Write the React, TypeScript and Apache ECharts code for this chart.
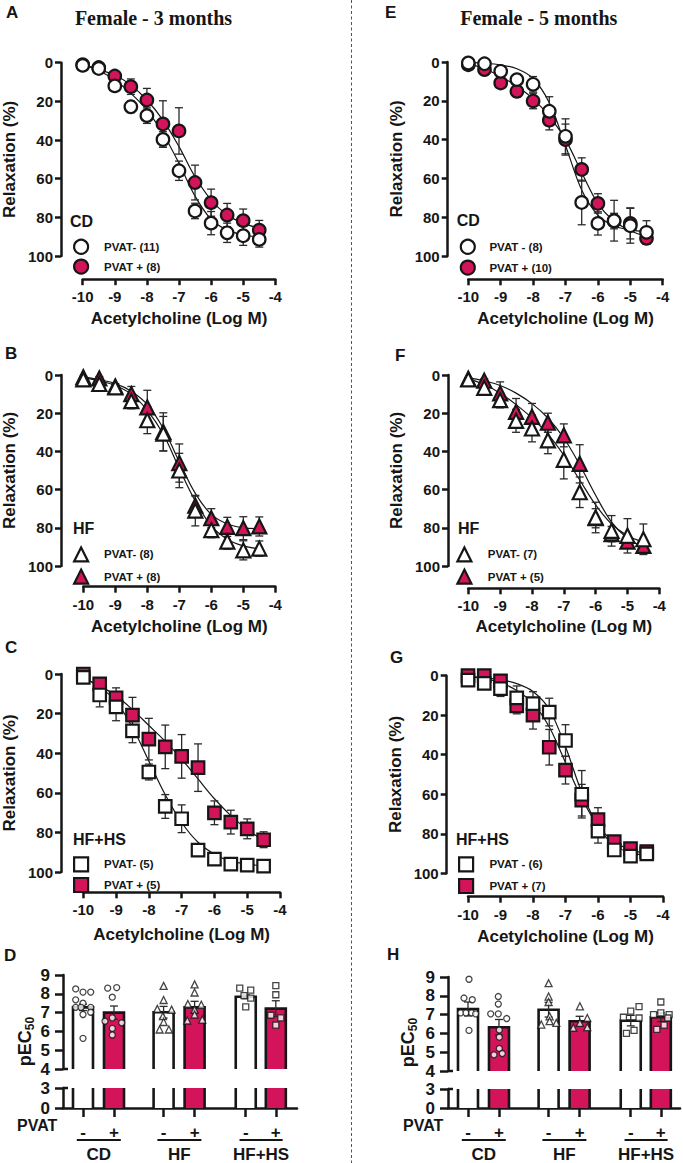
import React, { useEffect, useRef } from 'react';
import * as echarts from 'echarts';

const FONT = '"Liberation Sans", Arial, Helvetica, sans-serif';
const SERIF = '"Liberation Serif", "Times New Roman", serif';
const RED = '#D3145A';
const INK = '#161616';

// concentrations (log M)
const LOG_ACH = [-10, -9.5, -9, -8.5, -8, -7.5, -7, -6.5, -6, -5.5, -5, -4.5];

// Panel A : Female 3 months, CD
const A_MINUS = [1.4, 3, 12, 22.8, 27.4, 39.7, 55.9, 76.7, 83, 88, 89.5, 91.4];
const A_MINUS_SEM = [0, 1, 1.5, 3, 4, 4, 5, 4, 6, 5, 5, 4];
const A_MINUS_FIT = [1, 4, 9, 15.9, 24.5, 36.6, 52, 69, 81, 86.6, 89, 90.3];
const A_PLUS = [1, 2.5, 6.9, 12.4, 19.3, 31.7, 35.3, 62, 72.4, 78.8, 81.7, 86.6];
const A_PLUS_SEM = [0, 1, 2, 4, 6, 12, 12, 9, 7, 6, 6, 5];
const A_PLUS_FIT = [1, 3.5, 6.4, 11.6, 19.3, 29.7, 43.4, 59, 71, 78.8, 83, 85.7];

// Panel B : Female 3 months, HF
const B_MINUS = [2.3, 4.7, 6.5, 13.7, 23.7, 30.7, 50, 71, 81.2, 87.2, 91.8, 90.9];
const B_MINUS_SEM = [0.5, 1, 1.5, 4, 7, 9, 9, 8, 4, 4, 5, 4];
const B_MINUS_FIT = [1.5, 3, 5.5, 10, 18.5, 31, 49, 66, 79, 86, 89.5, 91];
const B_PLUS = [1.2, 1.8, 6, 10, 17, 29.8, 46.1, 68.4, 75, 79.5, 80.2, 79.3];
const B_PLUS_SEM = [0.5, 1, 1.5, 4, 9, 10, 10, 5, 5, 5, 6, 5];
const B_PLUS_FIT = [1, 2.5, 4.5, 8.5, 15.5, 28, 45.5, 62, 73, 78, 80, 80.5];

// Panel C : Female 3 months, HF+HS
const C_MINUS = [1.7, 10.6, 16.6, 28.7, 49.5, 66.9, 73.1, 89, 93.5, 96, 96.5, 97];
const C_MINUS_SEM = [1, 6, 7, 6, 4, 6, 7, 2, 1.5, 1, 1, 1];
const C_MINUS_FIT = [2, 6.5, 14, 27, 44, 61, 75, 85, 91, 94.5, 96, 97];
const C_PLUS = [0, 5, 12, 20.8, 32.9, 36.8, 41.6, 47.3, 70.1, 74.8, 78.2, 83.7];
const C_PLUS_SEM = [0.5, 2, 5, 9, 10.5, 11, 11, 12, 6, 6, 5, 4];
const C_PLUS_FIT = [2, 6, 11, 18, 26, 34, 43, 53, 63, 71.5, 78.5, 84];

// Panel E : Female 5 months, CD
const E_MINUS = [0.5, 0.9, 4.8, 9.1, 11.5, 25.4, 38.3, 72.4, 83.2, 81.8, 84.4, 87.8];
const E_MINUS_SEM = [0, 0, 1, 2, 4, 7.5, 9, 11.5, 6, 10.5, 9, 6];
const E_MINUS_FIT = [0.2, 0.6, 1.5, 3.5, 8.5, 21, 43, 66, 79, 84.5, 86.5, 87.5];
const E_PLUS = [1.4, 3.9, 10.8, 15.1, 20.1, 30, 40, 55.4, 72.9, 82, 83.2, 90.9];
const E_PLUS_SEM = [0.5, 1, 2, 3, 4, 5, 8, 6, 5, 4, 8, 3];
const E_PLUS_FIT = [1, 3.5, 7.5, 12.5, 19, 28, 40, 57, 73, 82, 87, 90];

// Panel F : Female 5 months, HF
const F_MINUS = [2.3, 6.7, 13.2, 24, 28, 34.2, 44.4, 61.4, 74.6, 81.6, 84.2, 86];
const F_MINUS_SEM = [0.5, 1.5, 4, 6, 7, 7, 10, 8, 8, 8, 9, 8];
const F_MINUS_FIT = [2, 5, 9.5, 15.5, 22.5, 31, 42, 55, 68, 78, 84, 87.5];
const F_PLUS = [2, 3, 9.6, 19.3, 21.9, 25, 31.6, 46.5, 75, 83.3, 87.2, 89.5];
const F_PLUS_SEM = [0.5, 1, 6, 7, 7, 5, 6, 10, 5, 4, 3, 3];
const F_PLUS_FIT = [1.5, 3, 5.5, 9.5, 15, 22.5, 33, 47, 63, 77, 85.5, 90];

// Panel G : Female 5 months, HF+HS
const G_MINUS = [2.2, 3.9, 6.5, 11.2, 14.1, 18.4, 32.8, 60, 78.7, 88.2, 91.3, 90.2];
const G_MINUS_SEM = [1, 1, 4, 6, 6, 7, 8, 12, 6, 3, 2, 2];
const G_MINUS_FIT = [0.5, 1, 2, 4, 8, 17, 36, 59, 76, 86, 89.5, 91];
const G_PLUS = [0, 0, 2.6, 15.3, 20, 36.2, 47.8, 63, 72.8, 84, 87.5, 89];
const G_PLUS_SEM = [0.5, 0.5, 1, 4, 7, 9, 7, 8, 6, 3, 2, 2];
const G_PLUS_FIT = [0.5, 1.5, 3.5, 7.5, 14, 26, 44, 62, 76, 84, 88, 90];

// pEC50 bar panels
const GROUPS = ['CD', 'HF', 'HF+HS'];
const PVAT_SIGN = ['-', '+', '-', '+', '-', '+'];
const D_MEAN = [7.28, 7.0, 7.02, 7.28, 7.84, 7.21];
const D_SEM = [0.17, 0.35, 0.31, 0.32, 0.1, 0.42];
const D_POINTS = [
  [8.26, 8.09, 8.09, 7.68, 7.5, 7.28, 7.28, 7.28, 7.02, 6.9, 5.63],
  [8.3, 8.33, 7.82, 6.72, 6.54, 6.46, 6.16, 5.81],
  [8.42, 7.67, 7.2, 7.16, 6.81, 6.5, 6.1, 6.1],
  [8.5, 8.07, 7.46, 7.42, 7.16, 6.9, 6.58, 6.63],
  [8.3, 8.2, 7.9, 7.77, 7.3],
  [8.44, 7.95, 6.86, 6.72, 6.33],
];
const H_MEAN = [7.3, 6.33, 7.26, 6.65, 6.68, 6.86];
const H_SEM = [0.37, 0.41, 0.39, 0.26, 0.28, 0.23];
const H_POINTS = [
  [8.88, 7.88, 7.79, 7.09, 7.09, 7.09, 7.04, 6.16],
  [7.96, 7.56, 7.04, 7.04, 6.79, 6.18, 5.8, 5.2, 4.93, 4.86],
  [8.67, 7.96, 7.67, 6.91, 6.65, 6.47, 6.56],
  [7.44, 6.82, 6.56, 6.33, 6.3],
  [7.42, 7.18, 6.86, 6.82, 6.16, 6.0],
  [7.67, 7.09, 7.0, 7.0, 6.82, 6.44, 6.21],
];

// ---- layout only (pixels / slots) ----
const D_JITTER = [
  [-7.3, 0, 7.7, -7.3, 0, -7.3, -2, 7.7, 7.7, 0, 0],
  [-6.3, 2.7, -1.7, -1.7, -9, 7.7, -1.7, -1.7],
  [0, 0, -6.3, 8, -0.7, 0, -4, 5.3],
  [0, 0, -6.7, 6.7, 0, 0, -7.3, 7.7],
  [-6, 5, -1.7, 5, 0],
  [0, 0, -5, 5, 0],
];
const H_JITTER = [
  [1, -4, 4.3, -7.3, -2, 3.7, 7.7, 1],
  [-0.7, -0.7, -8.3, -0.7, 7.7, 0.3, 0.3, 0.3, 3.3, -5],
  [0, 0, 0, 1, 1, -7.3, 7.7],
  [0.3, 7.7, 0.3, 7.7, -6.3],
  [8.3, 0, -7.3, 8.3, 3.3, -4.3],
  [0, 0, -7.3, 8.3, 7, 3.3, -4],
];
const BAR_POS = [1, 2, 3.6, 4.6, 6.25, 7.22];
const SLOT_PX = 31;
const BAR_W = 20 / SLOT_PX;
const X_MIN = 0.355;
const BREAK_LO = 3;
const BREAK_HI = 4;
const DOT_SHAPES = ['circle', 'circle', 'triangle', 'triangle', 'rect', 'rect'];

const CURVE_PANELS = [
  { id: 'A', left: 82.7, right: 275.3, top: 62.7, bottom: 256, yAxisX: 61, xAxisY: 279.2, xNameY: 319, shape: 'circle', group: 'CD', groupXY: [70, 221],
    minus: ['PVAT- (11)', A_MINUS, A_MINUS_SEM, A_MINUS_FIT], plus: ['PVAT + (8)', A_PLUS, A_PLUS_SEM, A_PLUS_FIT], leg: [80, 245.7, 17.6, 23] },
  { id: 'E', left: 468.3, right: 662.7, top: 62, bottom: 256, yAxisX: 447.7, xAxisY: 279.3, xNameY: 319.3, shape: 'circle', group: 'CD', groupXY: [456.7, 220],
    minus: ['PVAT - (8)', E_MINUS, E_MINUS_SEM, E_MINUS_FIT], plus: ['PVAT + (10)', E_PLUS, E_PLUS_SEM, E_PLUS_FIT], leg: [466.7, 245.7, 18.6, 21.6] },
  { id: 'B', left: 83.3, right: 275.3, top: 375, bottom: 566, yAxisX: 61, xAxisY: 586.7, xNameY: 627, shape: 'triangle', group: 'HF', groupXY: [73, 528.3],
    minus: ['PVAT- (8)', B_MINUS, B_MINUS_SEM, B_MINUS_FIT], plus: ['PVAT + (8)', B_PLUS, B_PLUS_SEM, B_PLUS_FIT], leg: [80, 553.3, 20, 23] },
  { id: 'F', left: 468.3, right: 659.3, top: 375, bottom: 566, yAxisX: 448, xAxisY: 588.3, xNameY: 626.7, shape: 'triangle', group: 'HF', groupXY: [458, 528],
    minus: ['PVAT- (7)', F_MINUS, F_MINUS_SEM, F_MINUS_FIT], plus: ['PVAT + (5)', F_PLUS, F_PLUS_SEM, F_PLUS_FIT], leg: [463.3, 553.3, 20, 23.4] },
  { id: 'C', left: 83.3, right: 280, top: 674, bottom: 872, yAxisX: 61, xAxisY: 892.3, xNameY: 935, shape: 'rect', group: 'HF+HS', groupXY: [73, 839],
    minus: ['PVAT- (5)', C_MINUS, C_MINUS_SEM, C_MINUS_FIT], plus: ['PVAT + (5)', C_PLUS, C_PLUS_SEM, C_PLUS_FIT], leg: [80, 863.3, 18.4, 23] },
  { id: 'G', left: 468, right: 663, top: 675.7, bottom: 873.3, yAxisX: 446.7, xAxisY: 896.7, xNameY: 936.7, shape: 'rect', group: 'HF+HS', groupXY: [456, 839],
    minus: ['PVAT - (6)', G_MINUS, G_MINUS_SEM, G_MINUS_FIT], plus: ['PVAT + (7)', G_PLUS, G_PLUS_SEM, G_PLUS_FIT], leg: [465, 863.3, 19.4, 23.3] },
];

const BAR_PANELS = [
  { id: 'D', left: 63, width: 234, top9: 975, y4: 1069, y3: 1088, y0: 1108, mean: D_MEAN, sem: D_SEM, points: D_POINTS, jitter: D_JITTER, pvatX: 17, pecX: 25 },
  { id: 'H', left: 448, width: 232, top9: 977, y4: 1071, y3: 1089, y0: 1108, mean: H_MEAN, sem: H_SEM, points: H_POINTS, jitter: H_JITTER, pvatX: 403, pecX: 408 },
];

const LETTERS = [
  ['A', 6, 12.5], ['B', 5, 353.7], ['C', 5, 647], ['D', 4, 955.5],
  ['E', 385, 12.8], ['F', 395, 355], ['G', 390, 657], ['H', 387, 954],
];

function txt(text: string, x: number, y: number, size: number, align = 'left', family = FONT, extra: any = {}) {
  return {
    type: 'text', x, y, silent: true, ...extra,
    style: { text, fill: INK, fontSize: size, fontWeight: 'bold', fontFamily: family, align, verticalAlign: 'middle', textAlign: align, textVerticalAlign: 'middle' },
  };
}

function errItem(_p: any, api: any) {
  const x = api.value(0), y = api.value(1), e = api.value(2);
  if (!e) return { type: 'group', children: [] };
  const a = api.coord([x, y - e]);
  const b = api.coord([x, y + e]);
  const hw = 4;
  const st = { stroke: '#2a2a2a', lineWidth: 1.3 };
  return {
    type: 'group',
    children: [
      { type: 'line', shape: { x1: a[0], y1: a[1], x2: b[0], y2: b[1] }, style: st },
      { type: 'line', shape: { x1: a[0] - hw, y1: a[1], x2: a[0] + hw, y2: a[1] }, style: st },
      { type: 'line', shape: { x1: b[0] - hw, y1: b[1], x2: b[0] + hw, y2: b[1] }, style: st },
    ],
  };
}

function barTopItem(_p: any, api: any) {
  const x = api.value(0), v = api.value(1), red = api.value(2);
  const w = api.size([BAR_W, 0])[0];
  const t = api.coord([x, v]);
  const b = api.coord([x, BREAK_HI]);
  const l = t[0] - w / 2, r = t[0] + w / 2;
  return {
    type: 'group',
    children: [
      { type: 'rect', shape: { x: l, y: t[1], width: w, height: b[1] - t[1] }, style: { fill: red ? RED : '#fff' } },
      { type: 'polyline', shape: { points: [[l, b[1]], [l, t[1]], [r, t[1]], [r, b[1]]] }, style: { stroke: INK, lineWidth: 2.6, fill: null } },
    ],
  };
}

function barBotItem(_p: any, api: any) {
  const x = api.value(0), v = Math.min(api.value(1), BREAK_LO), red = api.value(2);
  const w = api.size([BAR_W, 0])[0];
  const t = api.coord([x, v]);
  const b = api.coord([x, 0]);
  const l = t[0] - w / 2, r = t[0] + w / 2;
  return {
    type: 'group',
    children: [
      { type: 'rect', shape: { x: l, y: t[1], width: w, height: b[1] - t[1] }, style: { fill: red ? RED : '#fff' } },
      { type: 'line', shape: { x1: l, y1: t[1], x2: l, y2: b[1] }, style: { stroke: INK, lineWidth: 2.6 } },
      { type: 'line', shape: { x1: r, y1: t[1], x2: r, y2: b[1] }, style: { stroke: INK, lineWidth: 2.6 } },
    ],
  };
}

function buildOption() {
  const grid: any[] = [], xAxis: any[] = [], yAxis: any[] = [], series: any[] = [], legend: any[] = [], graphic: any[] = [];
  const axisLine = { show: true, onZero: false, lineStyle: { color: INK, width: 2.5 } };
  const axisTick = { show: true, inside: false, length: 6, lineStyle: { color: INK, width: 2.5 } };
  const tickFont = { fontFamily: FONT, fontWeight: 'bold', fontSize: 15, color: INK };

  CURVE_PANELS.forEach((p, i) => {
    grid.push({ left: p.left, top: p.top, width: p.right - p.left, height: p.bottom - p.top, outerBoundsMode: 'none', containLabel: false });
    xAxis.push({
      type: 'value', gridIndex: i, min: -10, max: -4, interval: 1, position: 'bottom', offset: p.xAxisY - p.bottom,
      name: 'Acetylcholine (Log M)', nameLocation: 'middle', nameGap: p.xNameY - p.xAxisY - 9,
      nameTextStyle: { fontFamily: FONT, fontWeight: 'bold', fontSize: 17, color: INK },
      axisLine, axisTick, splitLine: { show: false },
      axisLabel: { ...tickFont, margin: 10, showMinLabel: true, showMaxLabel: true, hideOverlap: false },
    });
    yAxis.push({
      type: 'value', gridIndex: i, min: 0, max: 100, interval: 20, inverse: true, position: 'left', offset: p.left - p.yAxisX,
      name: 'Relaxation (%)', nameLocation: 'middle', nameGap: 43, nameRotate: 90,
      nameTextStyle: { fontFamily: FONT, fontWeight: 'bold', fontSize: 17, color: INK },
      axisLine, axisTick, splitLine: { show: false },
      axisLabel: { ...tickFont, margin: 8, showMinLabel: true, showMaxLabel: true, hideOverlap: false },
    });
    const defs: any[] = [[p.plus, RED, 10], [p.minus, '#fff', 20]];
    defs.forEach(([d, fill, z]) => {
      const [name, ys, sem, fit] = d as [string, number[], number[], number[]];
      series.push({
        type: 'line', name: p.id + name + ' fit', xAxisIndex: i, yAxisIndex: i, z: 1, symbol: 'none', smooth: 0.35,
        silent: true, lineStyle: { color: INK, width: 1.2 }, data: LOG_ACH.map((x, k) => [x, fit[k]]),
      });
      series.push({
        type: 'custom', name: p.id + name + ' sem', xAxisIndex: i, yAxisIndex: i, z: 2 + z / 10, silent: true,
        renderItem: errItem, encode: { x: 0, y: 1 }, data: LOG_ACH.map((x, k) => [x, ys[k], sem[k]]),
      });
      series.push({
        type: 'scatter', name, xAxisIndex: i, yAxisIndex: i, z: 3 + z / 10, symbol: p.shape,
        symbolSize: p.shape === 'triangle' ? 14 : 12.5, silent: true,
        itemStyle: { color: fill, borderColor: INK, borderWidth: 2.2, opacity: 1 },
        data: LOG_ACH.map((x, k) => [x, ys[k]]),
      });
    });
    const [lx, ly, step, toff] = p.leg;
    legend.push({
      orient: 'vertical', left: lx - 7, top: ly - 7, itemWidth: 14, itemHeight: 14, itemGap: step - 14, padding: 0,
      selectedMode: false,
      textStyle: { fontFamily: FONT, fontWeight: 'bold', fontSize: 11.5, color: INK, padding: [0, 0, 0, toff - 12], lineHeight: 14 },
      data: [
        { name: p.minus[0], icon: p.shape, itemStyle: { color: '#fff', borderColor: INK, borderWidth: 2.2 } },
        { name: p.plus[0], icon: p.shape, itemStyle: { color: RED, borderColor: INK, borderWidth: 2.2 } },
      ],
    });
    graphic.push(txt(p.group, p.groupXY[0], p.groupXY[1], 16));
  });

  BAR_PANELS.forEach((b) => {
    const gTop = grid.length;
    const gBot = gTop + 1;
    const xMax = X_MIN + b.width / SLOT_PX;
    grid.push({ left: b.left, top: b.top9, width: b.width, height: b.y4 - b.top9, outerBoundsMode: 'none', containLabel: false });
    grid.push({ left: b.left, top: b.y3, width: b.width, height: b.y0 - b.y3, outerBoundsMode: 'none', containLabel: false });
    const yTick = { show: true, length: 8, lineStyle: { color: INK, width: 2.5 } };
    const yLab = { fontFamily: FONT, fontWeight: 'bold', fontSize: 17, color: INK, margin: 13, showMinLabel: true, showMaxLabel: true, hideOverlap: false };
    xAxis.push({ type: 'value', gridIndex: gTop, min: X_MIN, max: xMax, show: false, splitLine: { show: false } });
    xAxis.push({
      type: 'value', gridIndex: gBot, min: X_MIN, max: xMax, position: 'bottom',
      axisLine: { show: true, onZero: false, lineStyle: { color: INK, width: 2.5 } },
      axisTick: { show: true, length: 9, customValues: BAR_POS, lineStyle: { color: INK, width: 2.5 } },
      axisLabel: {
        customValues: BAR_POS, margin: 16, fontFamily: FONT, fontWeight: 'bold', fontSize: 17, color: INK, hideOverlap: false,
        formatter: (v: number) => {
          let k = 0;
          BAR_POS.forEach((q, j) => { if (Math.abs(q - v) < Math.abs(BAR_POS[k] - v)) k = j; });
          return PVAT_SIGN[k];
        },
      },
      splitLine: { show: false },
    });
    yAxis.push({
      type: 'value', gridIndex: gTop, min: BREAK_HI, max: 9, interval: 1, position: 'left',
      axisLine: { show: true, lineStyle: { color: INK, width: 2.5 } }, axisTick: yTick, axisLabel: yLab, splitLine: { show: false },
    });
    yAxis.push({
      type: 'value', gridIndex: gBot, min: 0, max: BREAK_LO, interval: 3, position: 'left',
      axisLine: { show: true, lineStyle: { color: INK, width: 2.5 } }, axisTick: yTick, axisLabel: yLab, splitLine: { show: false },
    });
    const barData = BAR_POS.map((x, k) => [x, b.mean[k], k % 2]);
    series.push({ type: 'custom', xAxisIndex: gTop, yAxisIndex: gTop, z: 1, silent: true, renderItem: barTopItem, encode: { x: 0, y: 1 }, data: barData });
    series.push({ type: 'custom', xAxisIndex: gBot, yAxisIndex: gBot, z: 1, silent: true, renderItem: barBotItem, encode: { x: 0, y: 1 }, data: barData });
    series.push({
      type: 'custom', xAxisIndex: gTop, yAxisIndex: gTop, z: 2, silent: true, renderItem: errItem, encode: { x: 0, y: 1 },
      data: BAR_POS.map((x, k) => [x, b.mean[k], b.sem[k]]),
    });
    ['circle', 'triangle', 'rect'].forEach((shape) => {
      const data: number[][] = [];
      BAR_POS.forEach((x, k) => {
        if (DOT_SHAPES[k] !== shape) return;
        b.points[k].forEach((v, j) => data.push([x + b.jitter[k][j] / SLOT_PX, v]));
      });
      series.push({
        type: 'scatter', xAxisIndex: gTop, yAxisIndex: gTop, z: 3, silent: true, symbol: shape,
        symbolSize: shape === 'triangle' ? 7 : 6, itemStyle: { color: '#fff', borderColor: INK, borderWidth: 1.3 }, data,
      });
    });
    // break caps on the inner side of the axis
    graphic.push({ type: 'line', silent: true, shape: { x1: b.left, y1: b.y4, x2: b.left + 5, y2: b.y4 }, style: { stroke: INK, lineWidth: 2.5 } });
    graphic.push({ type: 'line', silent: true, shape: { x1: b.left, y1: b.y3, x2: b.left + 5, y2: b.y3 }, style: { stroke: INK, lineWidth: 2.5 } });
    // group underlines and labels
    const px = (pos: number) => b.left + (pos - X_MIN) * SLOT_PX;
    GROUPS.forEach((g, k) => {
      const x1 = px(BAR_POS[2 * k] - 0.2), x2 = px(BAR_POS[2 * k + 1] + 0.22);
      graphic.push({ type: 'line', silent: true, shape: { x1, y1: 1140, x2, y2: 1140 }, style: { stroke: INK, lineWidth: 2 } });
      graphic.push(txt(g, (x1 + x2) / 2, 1154, 17, 'center'));
    });
    graphic.push(txt('PVAT', b.pvatX, 1125, 16));
    graphic.push({
      type: 'text', x: b.pecX, y: (b.top9 + b.y0) / 2, rotation: Math.PI / 2, silent: true,
      style: {
        text: '{a|pEC}{b|50}', align: 'center', verticalAlign: 'middle', textAlign: 'center', textVerticalAlign: 'middle',
        rich: {
          a: { fontSize: 18, fontWeight: 'bold', fontFamily: FONT, fill: INK, color: INK, lineHeight: 22, verticalAlign: 'middle' },
          b: { fontSize: 12, fontWeight: 'bold', fontFamily: FONT, fill: INK, color: INK, lineHeight: 22, verticalAlign: 'bottom', padding: [8, 0, 0, 0] },
        },
      },
    });
  });

  LETTERS.forEach(([l, x, y]) => graphic.push(txt(l as string, x as number, y as number, 17)));
  graphic.push(txt('Female - 3 months', 153.5, 18, 20, 'center', SERIF));
  graphic.push(txt('Female - 5 months', 538.8, 18, 20, 'center', SERIF));
  graphic.push({ type: 'line', silent: true, shape: { x1: 351.5, y1: 0, x2: 351.5, y2: 1163 }, style: { stroke: '#555', lineWidth: 1, lineDash: [3, 2.5] } });

  return { animation: false, backgroundColor: '#fff', grid, xAxis, yAxis, series, legend, graphic };
}

export default function App() {
  const ref = useRef<HTMLDivElement>(null);
  useEffect(() => {
    if (!ref.current) return;
    const chart = echarts.init(ref.current, undefined, { renderer: 'svg' });
    chart.setOption(buildOption() as any);
    return () => chart.dispose();
  }, []);
  return <div ref={ref} style={{ position: 'absolute', left: 0, top: 0, width: 683, height: 1163, background: '#fff' }} />;
}
